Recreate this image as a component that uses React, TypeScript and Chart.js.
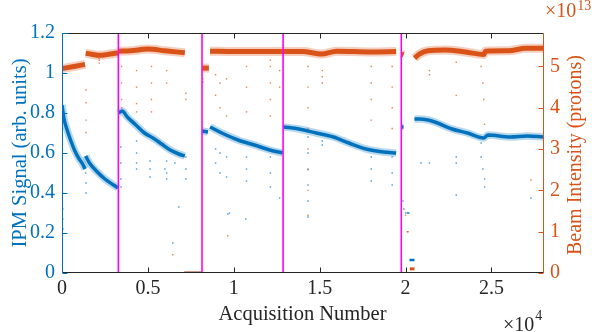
import React, { useEffect, useRef } from "react";
import { Chart, registerables } from "chart.js";
Chart.register(...registerables);

const BLUE = "#0072BD";
const ORANGE = "#D95319";
const MAGENTA = "#FF00FF";
const DARK = "#262626";
const FONT = "'Liberation Serif', 'Times New Roman', serif";

// x: acquisition number; IPM signal in arb. units (left axis)
const ipmRun1 = [[0, 0.84], [120, 0.77], [280, 0.72], [500, 0.665], [750, 0.61], [1000, 0.57], [1200, 0.545], [1340, 0.52]];
const ipmRun2 = [[1380, 0.585], [1600, 0.55], [2000, 0.51], [2500, 0.47], [3000, 0.44], [3260, 0.425]];
const ipmRun3 = [[3300, 0.8], [3500, 0.81], [3800, 0.78], [4300, 0.74], [4800, 0.7], [5300, 0.675], [5800, 0.645], [6300, 0.615], [6800, 0.595], [7150, 0.585]];
const ipmRun4 = [[8160, 0.71], [8500, 0.705]];
const ipmRun5 = [[8620, 0.73], [9300, 0.7], [10250, 0.665], [11200, 0.64], [12100, 0.615], [12850, 0.6]];
const ipmRun6 = [[12900, 0.73], [13800, 0.72], [14800, 0.7], [15800, 0.68], [16700, 0.65], [17700, 0.62], [18700, 0.605], [19450, 0.6]];
const ipmRun7 = [[19760, 0.73], [19880, 0.73]];
const ipmRun8 = [[20520, 0.77], [20800, 0.77], [21300, 0.765], [21700, 0.755], [22700, 0.72], [23600, 0.7], [24550, 0.675], [24800, 0.69], [26100, 0.68], [27100, 0.685], [28000, 0.68]];
const ipmLowRun1 = [[7150, 0], [8100, 0]];
const ipmLowRun2 = [[20230, 0.065], [20520, 0.065]];

// Beam intensity in units of 1e13 protons (right axis)
const beamRun1 = [[0, 4.95], [700, 5.0], [1340, 5.05]];
const beamRun2 = [[1380, 5.32], [1800, 5.29], [2100, 5.27], [2800, 5.3], [3260, 5.33]];
const beamRun3 = [[3300, 5.37], [4000, 5.38], [5000, 5.42], [6000, 5.38], [7150, 5.33]];
const beamRun4 = [[8160, 4.96], [8550, 4.96]];
const beamRun5 = [[8620, 5.37], [10000, 5.36], [12000, 5.36], [14000, 5.36], [15100, 5.3], [16000, 5.37], [18000, 5.35], [19450, 5.36]];
const beamRun6 = [[19760, 5.3], [19880, 5.28]];
const beamRun7 = [[20520, 5.2], [20800, 5.3], [21300, 5.38], [22300, 5.4], [23500, 5.35], [24550, 5.29], [24650, 5.37], [26000, 5.38], [27000, 5.44], [28000, 5.44]];
const beamLowRun1 = [[7100, 0], [8120, 0]];
const beamLowRun2 = [[20250, 0.1], [20520, 0.1]];

// scattered single acquisitions
const ipmStrays = [
  [50, 0.32], [50, 0.27], [60, 0.22], [40, 0.4], [1390, 0.45], [1400, 0.4], [1380, 0.5],
  [3430, 0.63], [3430, 0.55], [3430, 0.47], [3440, 0.43], [4340, 0.66], [4340, 0.6], [4340, 0.55], [4340, 0.52],
  [5120, 0.56], [5120, 0.52], [5120, 0.48], [6090, 0.56], [6090, 0.5], [6090, 0.47], [6570, 0.55],
  [7210, 0.58], [7210, 0.52], [7210, 0.47], [6800, 0.33], [6450, 0.15], [5990, 0.52],
  [8940, 0.62], [8940, 0.55], [9200, 0.6], [9200, 0.5], [9580, 0.58], [9580, 0.48], [9750, 0.3], [9650, 0.295],
  [10740, 0.58], [10740, 0.52], [10740, 0.46], [10700, 0.27], [12130, 0.58], [12130, 0.5], [12130, 0.43], [12670, 0.375],
  [14320, 0.68], [14320, 0.6], [14320, 0.52], [14320, 0.44], [14320, 0.36], [14320, 0.28], [15150, 0.64], [15150, 0.66],
  [18000, 0.58], [18000, 0.52], [18000, 0.46], [19220, 0.58], [19220, 0.5], [19220, 0.44],
  [19850, 0.36], [19900, 0.32], [20000, 0.3], [20100, 0.3], [20150, 0.3], [20200, 0.3],
  [20900, 0.55], [21390, 0.55], [22950, 0.58], [22950, 0.55], [22950, 0.39],
  [24400, 0.65], [24400, 0.58], [24500, 0.52], [24600, 0.47], [24600, 0.43], [27300, 0.375],
  [500, 0], [1200, 0], [2500, 0], [4000, 0], [5500, 0], [9000, 0], [11000, 0], [13000, 0], [15500, 0], [17000, 0], [21000, 0], [23000, 0], [26000, 0], [27500, 0],
];
const beamStrays = [
  [1395, 4.43], [1395, 4.12], [1400, 3.7], [1395, 3.4], [2170, 5.15], [2170, 5.08], [2150, 5.2],
  [3470, 5.0], [3470, 4.6], [3470, 4.2], [3470, 4.0],
  [4340, 4.9], [4340, 4.5], [4340, 4.1], [4340, 3.9], [5210, 5.0], [5210, 4.6], [5210, 4.2], [5210, 3.9],
  [6090, 4.9], [6090, 4.6], [7210, 4.35], [7210, 4.2], [6450, 0.44], [8200, 4.7], [8200, 4.63],
  [8940, 4.8], [8940, 4.3], [9200, 4.6], [9200, 4.0], [9580, 4.7], [9580, 3.8], [9650, 0.9],
  [10740, 5.0], [10740, 4.5], [10740, 3.9], [12130, 5.15], [12130, 5.0], [12130, 4.6], [12130, 4.2], [12130, 3.8], [12670, 4.9], [12670, 4.5],
  [14320, 5.0], [14320, 4.5], [14320, 4.0], [14320, 3.5], [14320, 3.0], [14320, 2.5], [14320, 2.0], [14320, 1.4],
  [15150, 4.9], [15150, 4.75], [15150, 4.6], [18000, 5.0], [18000, 4.6], [18000, 4.2], [18000, 3.7],
  [19220, 5.0], [19220, 4.5], [19220, 4.0], [19220, 3.5], [20000, 1.4], [20100, 1.0], [20150, 1.0],
  [21390, 4.9], [21390, 4.8], [22950, 4.3], [22950, 5.1], [24400, 5.0], [24500, 4.6], [24550, 4.2], [24600, 3.6], [27300, 2.25],
  [800, 0], [2000, 0], [3600, 0], [6000, 0], [9500, 0], [12000, 0], [14500, 0], [16500, 0], [18500, 0], [22000, 0], [24000, 0], [25500, 0], [27000, 0],
];

// run boundaries (magenta markers)
const markerXs = [3280, 8150, 12870, 19750];

const xTicks = [0, 5000, 10000, 15000, 20000, 25000];
const leftTicks = [0, 0.2, 0.4, 0.6, 0.8, 1.0, 1.2];
const rightTicks = [0, 1, 2, 3, 4, 5];

const ipmRuns = [ipmRun1, ipmRun2, ipmRun3, ipmRun4, ipmRun5, ipmRun6, ipmRun7, ipmRun8];
const ipmLowRuns = [ipmLowRun1, ipmLowRun2];
const beamRuns = [beamRun1, beamRun2, beamRun3, beamRun4, beamRun5, beamRun6, beamRun7];
const beamLowRuns = [beamLowRun1, beamLowRun2];

const toXY = (arr: number[][]) => arr.map(([x, y]) => ({ x, y }));

function bandSets(runs: number[][][], axis: string, color: string, fringe: string, wf: number, wc: number, order: number) {
  const out: any[] = [];
  runs.forEach((run) => {
    if (wf > 0) {
      out.push({
        data: toXY(run), yAxisID: axis, borderColor: fringe, borderWidth: wf, pointRadius: 0,
        cubicInterpolationMode: "monotone", borderCapStyle: "butt", order: order + 1,
      });
    }
    out.push({
      data: toXY(run), yAxisID: axis, borderColor: color, borderWidth: wc, pointRadius: 0,
      cubicInterpolationMode: "monotone", borderCapStyle: "butt", order,
    });
  });
  return out;
}

const framePlugin = {
  id: "frame",
  afterDraw(chart: any) {
    const { ctx, chartArea: ca, scales } = chart;
    const L = ca.left + 0.5, R = ca.right + 0.5, T = ca.top + 0.5, B = ca.bottom - 0.5;
    ctx.save();
    ctx.lineWidth = 1;
    ctx.strokeStyle = DARK;
    ctx.beginPath();
    ctx.moveTo(L, T); ctx.lineTo(R, T);
    ctx.moveTo(L, B); ctx.lineTo(R, B);
    xTicks.forEach((v) => {
      const px = Math.round(scales.x.getPixelForValue(v)) + 0.5;
      ctx.moveTo(px, B); ctx.lineTo(px, B - 5);
      ctx.moveTo(px, T); ctx.lineTo(px, T + 5);
    });
    ctx.stroke();
    ctx.strokeStyle = BLUE;
    ctx.beginPath();
    ctx.moveTo(L, T); ctx.lineTo(L, B + 0.5);
    leftTicks.forEach((v) => {
      const py = Math.round(scales.y.getPixelForValue(v)) + 0.5;
      ctx.moveTo(L, py); ctx.lineTo(L + 5, py);
    });
    ctx.stroke();
    ctx.strokeStyle = ORANGE;
    ctx.beginPath();
    ctx.moveTo(R, T); ctx.lineTo(R, B + 0.5);
    rightTicks.forEach((v) => {
      const py = Math.round(scales.y1.getPixelForValue(v)) + 0.5;
      ctx.moveTo(R, py); ctx.lineTo(R - 5, py);
    });
    ctx.stroke();

    // exponent labels
    ctx.textBaseline = "alphabetic";
    ctx.textAlign = "left";
    ctx.fillStyle = ORANGE;
    ctx.font = `20px ${FONT}`;
    ctx.fillText("\u00d710", 545, 17);
    const w1 = ctx.measureText("\u00d710").width;
    ctx.font = `14px ${FONT}`;
    ctx.fillText("13", 545 + w1 + 1, 10);
    ctx.fillStyle = DARK;
    ctx.font = `20px ${FONT}`;
    ctx.fillText("\u00d710", 503, 331);
    const w2 = ctx.measureText("\u00d710").width;
    ctx.font = `14px ${FONT}`;
    ctx.fillText("4", 503 + w2 + 1, 320);

    // right axis title (reads bottom to top)
    ctx.fillStyle = ORANGE;
    ctx.font = `20px ${FONT}`;
    ctx.translate(576, 155);
    ctx.rotate(-Math.PI / 2);
    ctx.textAlign = "center";
    ctx.textBaseline = "middle";
    ctx.fillText("Beam Intensity (protons)", 0, 0);
    ctx.restore();
  },
};

export default function App() {
  const ref = useRef<HTMLCanvasElement>(null);
  useEffect(() => {
    if (!ref.current) return;
    let alive = true;
    const datasets: any[] = [
      ...markerXs.map((x) => ({
        data: [{ x, y: 0 }, { x, y: 1.2 }], yAxisID: "y", borderColor: MAGENTA, borderWidth: 1.6, pointRadius: 0, order: 0,
      })),
      ...bandSets(beamRuns, "y1", ORANGE, "rgba(217,83,25,0.28)", 9, 5, 2),
      ...bandSets(beamLowRuns, "y1", ORANGE, "", 0, 3, 2),
      ...bandSets(ipmRuns, "y", BLUE, "rgba(0,114,189,0.28)", 7.5, 3.5, 5),
      ...bandSets(ipmLowRuns, "y", BLUE, "", 0, 2.5, 5),
      {
        data: toXY(beamStrays), yAxisID: "y1", showLine: false, pointRadius: 1, pointStyle: "rect",
        backgroundColor: "rgba(217,83,25,0.7)", borderWidth: 0, order: 1,
      },
      {
        data: toXY(ipmStrays), yAxisID: "y", showLine: false, pointRadius: 1, pointStyle: "rect",
        backgroundColor: "rgba(0,114,189,0.7)", borderWidth: 0, order: 4,
      },
    ];
    const chart = new Chart(ref.current, {
      type: "line",
      data: { datasets },
      plugins: [framePlugin],
      options: {
        animation: false,
        responsive: false,
        devicePixelRatio: 1,
        layout: { padding: { top: 33, left: 0, right: 0, bottom: 0 } },
        plugins: { legend: { display: false }, tooltip: { enabled: false } },
        scales: {
          x: {
            type: "linear", position: "bottom", min: 0, max: 28000,
            afterFit: (s: any) => { s.height = 59; },
            afterBuildTicks: (s: any) => { s.ticks = xTicks.map((v) => ({ value: v })); },
            grid: { display: false, drawTicks: false }, border: { display: false },
            ticks: { color: DARK, padding: 4, font: { family: FONT, size: 20 }, callback: (v: any) => String(v / 10000), maxRotation: 0, autoSkip: false },
            title: { display: true, text: "Acquisition Number", color: DARK, font: { family: FONT, size: 20.5 }, padding: { top: 0, bottom: 5 } },
          },
          y: {
            type: "linear", position: "left", min: 0, max: 1.2,
            afterFit: (s: any) => { s.width = 62; },
            afterBuildTicks: (s: any) => { s.ticks = leftTicks.map((v) => ({ value: v })); },
            grid: { display: false, drawTicks: false }, border: { display: false },
            ticks: { color: BLUE, padding: 7, font: { family: FONT, size: 20 }, callback: (v: any) => String(Number(Number(v).toFixed(1))), autoSkip: false },
            title: { display: true, text: "IPM Signal (arb. units)", color: BLUE, font: { family: FONT, size: 20.5 }, padding: { top: 8, bottom: 0 } },
          },
          y1: {
            type: "linear", position: "right", min: 0, max: 5.81,
            afterFit: (s: any) => { s.width = 51; },
            afterBuildTicks: (s: any) => { s.ticks = rightTicks.map((v) => ({ value: v })); },
            grid: { display: false, drawTicks: false }, border: { display: false },
            ticks: { color: ORANGE, padding: 7, font: { family: FONT, size: 20 }, callback: (v: any) => String(v), autoSkip: false },
          },
        },
      } as any,
    });
    const redraw = () => { if (alive) chart.update("none"); };
    if ((document as any).fonts) {
      (document as any).fonts.load(`20px ${FONT}`).then(redraw).catch(() => {});
      (document as any).fonts.ready.then(redraw);
    }
    const t = setTimeout(redraw, 150);
    return () => { alive = false; clearTimeout(t); chart.destroy(); };
  }, []);
  return (
    <div style={{ position: "absolute", left: 0, top: 0, width: 594, height: 332, background: "#fff" }}>
      <span aria-hidden="true" style={{ position: "absolute", left: 0, top: 0, fontFamily: FONT, fontSize: 20, opacity: 0, pointerEvents: "none" }}>0</span>
      <canvas ref={ref} width={594} height={332} style={{ position: "relative", width: 594, height: 332, display: "block" }} />
    </div>
  );
}
